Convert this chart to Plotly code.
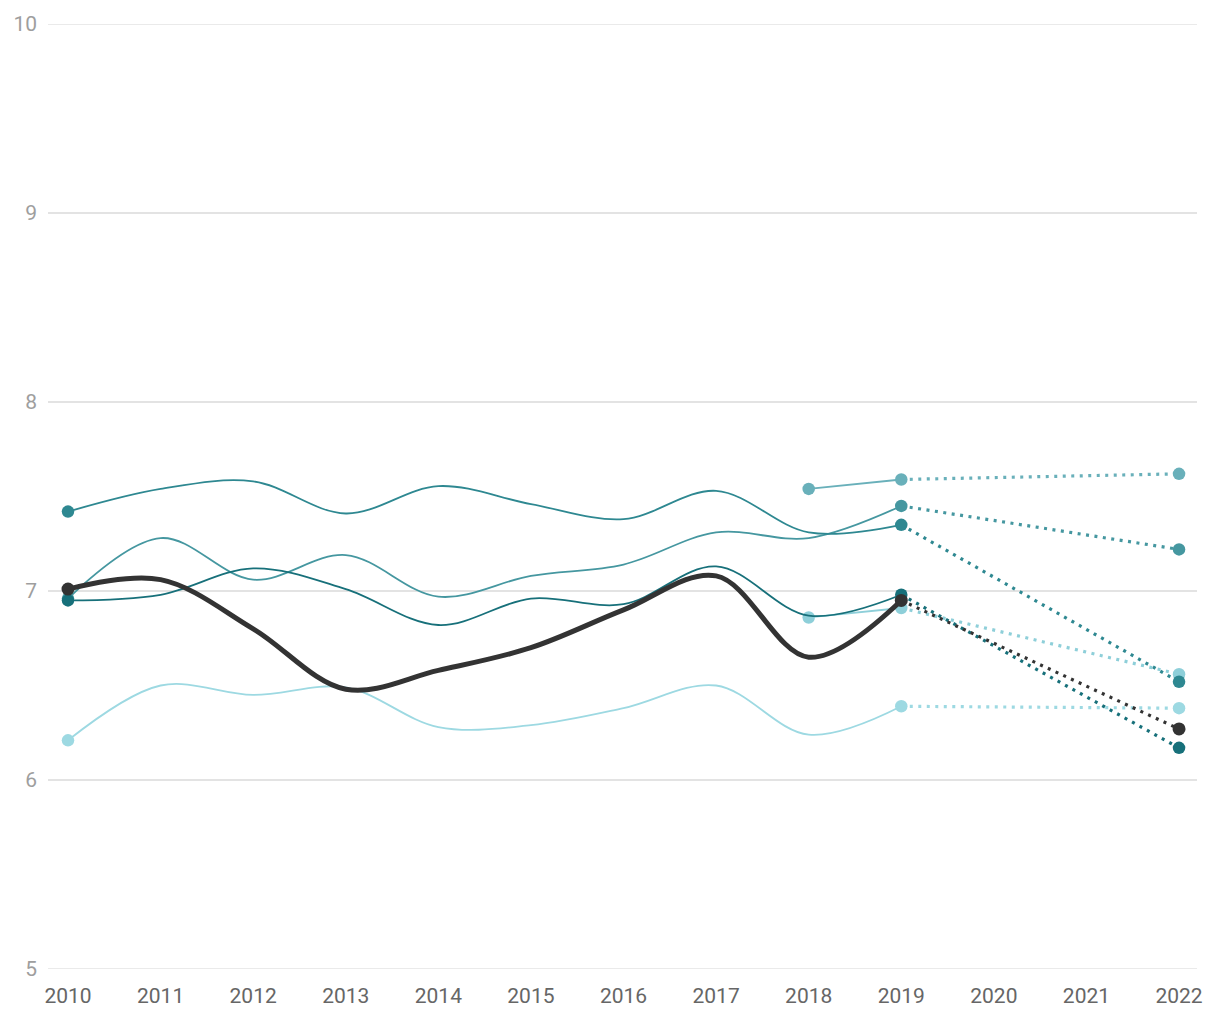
import plotly.graph_objects as go

years = [2010, 2011, 2012, 2013, 2014, 2015, 2016, 2017, 2018, 2019]
proj_years = [2019, 2022]
late_years = [2018, 2019]

series_f = [6.21, 6.50, 6.45, 6.49, 6.28, 6.29, 6.38, 6.50, 6.24, 6.39]
series_f_2022 = 6.38
series_e = [6.86, 6.91]
series_e_2022 = 6.56
series_d = [7.54, 7.59]
series_d_2022 = 7.62
series_b = [6.96, 7.28, 7.06, 7.19, 6.97, 7.08, 7.14, 7.31, 7.28, 7.45]
series_b_2022 = 7.22
series_a = [7.42, 7.54, 7.58, 7.41, 7.555, 7.46, 7.38, 7.53, 7.31, 7.35]
series_a_2022 = 6.52
series_c = [6.95, 6.98, 7.12, 7.01, 6.82, 6.96, 6.93, 7.13, 6.87, 6.98]
series_c_2022 = 6.17
series_k = [7.01, 7.06, 6.80, 6.48, 6.58, 6.70, 6.90, 7.08, 6.65, 6.95]
series_k_2022 = 6.27

x_ticks = list(range(2010, 2023))
y_ticks = [5, 6, 7, 8, 9, 10]
y_min, y_max = 5, 10

fig = go.Figure()


def add_series(xs, ys, end_2022, color, width, msize):
    fig.add_trace(go.Scatter(
        x=xs, y=ys, mode="lines",
        line=dict(color=color, width=width, shape="spline", smoothing=1),
        hoverinfo="skip", showlegend=False))
    fig.add_trace(go.Scatter(
        x=proj_years, y=[ys[-1], end_2022], mode="lines",
        line=dict(color=color, width=3.2, dash="3px,5.5px"),
        hoverinfo="skip", showlegend=False))
    mx = [xs[0], xs[-1], 2022]
    my = [ys[0], ys[-1], end_2022]
    fig.add_trace(go.Scatter(
        x=mx, y=my, mode="markers",
        marker=dict(color=color, size=msize, line=dict(width=0)),
        hoverinfo="skip", showlegend=False))


add_series(years, series_f, series_f_2022, "#9DD9E2", 1.8, 12.5)
add_series(late_years, series_e, series_e_2022, "#8ECFD9", 1.8, 12.5)
add_series(late_years, series_d, series_d_2022, "#69B0BA", 1.8, 12.5)
add_series(years, series_b, series_b_2022, "#4597A0", 1.8, 12.5)
add_series(years, series_a, series_a_2022, "#2E8891", 1.8, 12.5)
add_series(years, series_c, series_c_2022, "#17707A", 1.8, 12.5)
add_series(years, series_k, series_k_2022, "#333333", 5, 13)

# edge gridlines (plotly drops gridlines lying on the plot edges)
for yv in (y_min, y_max):
    fig.add_shape(type="line", xref="paper", yref="y", x0=0, x1=1, y0=yv, y1=yv,
                  line=dict(color="#E3E3E3", width=1.5), layer="below")

fig.update_layout(
    width=1220, height=1020,
    margin=dict(l=48, r=23, t=23, b=50),
    paper_bgcolor="white", plot_bgcolor="white",
    font=dict(family="Roboto", size=21, color="#666666"),
    xaxis=dict(
        range=[2009.784, 2022.194], tickmode="array", tickvals=x_ticks,
        ticktext=[str(v) for v in x_ticks],
        showgrid=False, zeroline=False, showline=False, ticks="",
        tickfont=dict(family="Roboto", size=21, color="#666666"),
        ticklabelstandoff=12, fixedrange=True),
    yaxis=dict(
        range=[y_min, y_max], tickmode="array", tickvals=y_ticks,
        showgrid=True, gridcolor="#E3E3E3", gridwidth=1.5,
        zeroline=False, showline=False, ticks="",
        tickfont=dict(family="Roboto", size=21, color="#9E9E9E"),
        ticklabelstandoff=10, fixedrange=True),
)

fig.write_html("out.html", config={"displayModeBar": False},
               post_script="document.body.style.margin='0';")
